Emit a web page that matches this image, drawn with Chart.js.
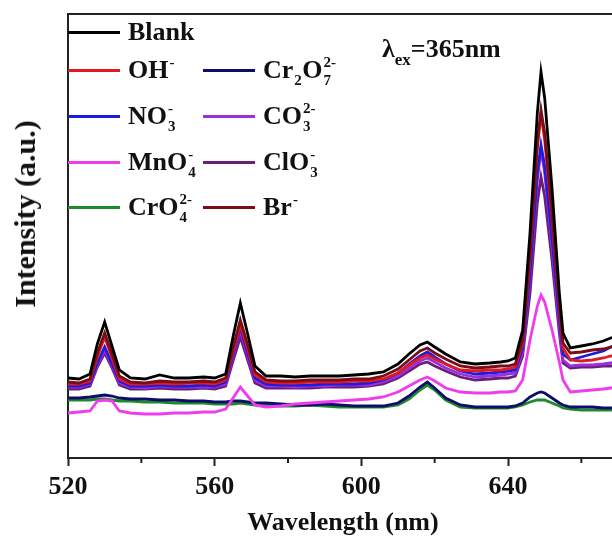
<!DOCTYPE html>
<html>
<head>
<meta charset="utf-8">
<script src="https://cdn.jsdelivr.net/npm/chart.js@4.4.1/dist/chart.umd.min.js"></script>
<style>
    html, body { margin: 0; padding: 0; background: #fff; }
    #frame { position: relative; width: 612px; height: 542px; overflow: hidden; }
    #plot { position: absolute; left: 0; top: 0; width: 624px; height: 542px; }
    .key, .note, .ytitle {
        position: absolute; white-space: nowrap;
        font: bold 26px 'Liberation Serif', 'Times New Roman', serif; color: #111;
    }
    .key, .note { height: 26px; line-height: 26px; }
    .key { display: flex; align-items: center; }
    .key i { display: block; width: 52px; height: 3px; margin-right: 8px; }
    .ion { position: relative; display: inline-block; height: 0; }
    .ion b { position: absolute; left: 1px; font-size: 15px; line-height: 15px; }
    .ion .up { top: -23px; }
    .ion .dn { top: -5px; }
    .ytitle { left: 25px; top: 214px; font-size: 30px; line-height: 30px; transform: translate(-50%, -50%) rotate(-90deg); }
</style>
</head>
<body>
<div id="frame">
    <div id="plot"><canvas id="spectraChart"></canvas></div>
    <div id="legend"></div>
    <div class="note" style="left:382px; top:36px;">λ<span style="font-size:17px; position:relative; top:8px;">ex</span>=365nm</div>
    <div class="ytitle">Intensity (a.u.)</div>
</div>
<script>
// emission spectra (arbitrary intensity units)
const wavelength = [520, 523, 526, 528, 530, 532, 534, 537, 541, 545, 549, 553, 557, 560, 563, 565, 567, 569, 571, 574,
    578, 582, 586, 590, 594, 598, 602, 606, 610, 613, 616, 618, 620, 623, 627, 631, 635, 638, 640, 642,
    644, 646, 648, 649, 650, 652, 654, 655, 657, 660, 663, 666, 668, 670];

const blank = [80, 79, 84, 114, 136, 112, 88, 80, 79, 83, 80, 80, 81, 80, 84, 121, 155, 124, 92, 82,
    82, 81, 82, 82, 82, 83, 84, 86, 94, 104, 113, 116, 111, 104, 96, 94, 95, 96, 97, 100,
    128, 225, 345, 386, 360, 270, 165, 125, 110, 112, 114, 117, 120, 122];
const bromide = [76, 75, 79, 105, 125, 104, 82, 76, 75, 77, 76, 76, 77, 76, 80, 110, 138, 113, 86, 78,
    77, 77, 78, 78, 78, 79, 79, 82, 89, 98, 107, 110, 105, 99, 92, 90, 91, 92, 92, 94,
    118, 205, 315, 348, 325, 245, 155, 115, 105, 106, 108, 109, 111, 112];
const hydroxide = [74, 74, 77, 101, 121, 100, 79, 74, 74, 75, 74, 75, 75, 74, 78, 106, 133, 109, 83, 76,
    75, 75, 76, 76, 76, 77, 77, 79, 85, 93, 100, 103, 99, 94, 88, 87, 88, 88, 89, 91,
    114, 200, 310, 344, 318, 240, 150, 110, 98, 97, 98, 100, 102, 103];
const nitrate = [72, 72, 75, 95, 111, 94, 77, 72, 72, 73, 72, 72, 73, 72, 76, 103, 131, 105, 80, 74,
    73, 73, 73, 74, 74, 74, 75, 78, 85, 94, 102, 106, 101, 94, 87, 84, 85, 86, 87, 88,
    110, 185, 285, 313, 292, 220, 140, 104, 98, 101, 104, 107, 111, 114];
const carbonate = [71, 71, 74, 93, 108, 92, 75, 71, 70, 72, 71, 71, 71, 71, 74, 101, 128, 102, 78, 72,
    72, 71, 72, 72, 73, 73, 73, 76, 82, 90, 97, 100, 96, 90, 84, 81, 82, 83, 84, 85,
    106, 180, 278, 308, 285, 212, 132, 98, 92, 93, 93, 94, 95, 96];
const chlorate = [69, 69, 72, 91, 105, 90, 73, 69, 69, 70, 69, 69, 70, 69, 72, 97, 121, 98, 75, 70,
    70, 70, 70, 71, 71, 71, 72, 74, 80, 87, 94, 96, 92, 87, 81, 78, 79, 80, 80, 82,
    102, 165, 255, 281, 262, 198, 125, 95, 90, 91, 91, 92, 92, 93];
const permanganate = [45, 46, 47, 57, 58, 57, 47, 45, 44, 44, 45, 45, 46, 46, 49, 60, 71, 62, 53, 51,
    52, 54, 55, 56, 57, 58, 59, 61, 66, 72, 78, 81, 77, 70, 66, 65, 65, 66, 66, 67,
    78, 118, 152, 163, 156, 128, 96, 78, 66, 67, 68, 69, 70, 71];
const dichromate = [60, 60, 61, 62, 63, 62, 60, 59, 59, 58, 58, 57, 57, 56, 56, 57, 57, 56, 55, 55,
    54, 53, 53, 54, 53, 52, 52, 52, 55, 62, 71, 76, 70, 60, 53, 51, 51, 51, 51, 52,
    55, 61, 65, 66, 65, 60, 55, 53, 51, 51, 51, 50, 50, 50];
const chromate = [58, 58, 58, 59, 59, 58, 57, 57, 56, 56, 55, 55, 55, 54, 54, 54, 55, 54, 53, 53,
    52, 52, 53, 52, 51, 51, 51, 51, 53, 59, 68, 73, 68, 58, 51, 50, 50, 50, 50, 51,
    53, 56, 58, 58, 58, 55, 52, 50, 49, 48, 48, 48, 48, 48];

const majorTicks = [520, 560, 600, 640];
const minorTicks = [540, 580, 620, 660];

// drawn first-to-last = top-to-bottom
const series = [
    { name: 'Blank', html: 'Blank', color: '#000000', values: blank },
    { name: 'Br-', html: 'Br<span class="ion"><b class="up">-</b></span>', color: '#7a0d16', values: bromide },
    { name: 'OH-', html: 'OH<span class="ion"><b class="up">-</b></span>', color: '#e3191f', values: hydroxide },
    { name: 'NO3-', html: 'NO<span class="ion"><b class="up">-</b><b class="dn">3</b></span>', color: '#1c1ce0', values: nitrate },
    { name: 'CO32-', html: 'CO<span class="ion"><b class="up">2-</b><b class="dn">3</b></span>', color: '#9a2fdc', values: carbonate },
    { name: 'ClO3-', html: 'ClO<span class="ion"><b class="up">-</b><b class="dn">3</b></span>', color: '#6b1d78', values: chlorate },
    { name: 'MnO4-', html: 'MnO<span class="ion"><b class="up">-</b><b class="dn">4</b></span>', color: '#ee3cee', values: permanganate },
    { name: 'Cr2O72-', html: 'Cr<span class="ion"><b class="dn">2</b></span>O<span class="ion"><b class="up">2-</b><b class="dn">7</b></span>', color: '#0e0e6a', values: dichromate },
    { name: 'CrO42-', html: 'CrO<span class="ion"><b class="up">2-</b><b class="dn">4</b></span>', color: '#1f8a2c', values: chromate }
];

// legend slots: [series name, left, line centre y]
const legendSlots = [
    ['Blank', 68, 32], ['OH-', 68, 70], ['NO3-', 68, 116], ['MnO4-', 68, 162], ['CrO42-', 68, 207],
    ['Cr2O72-', 203, 70], ['CO32-', 203, 116], ['ClO3-', 203, 162], ['Br-', 203, 207]
];

const legend = document.getElementById('legend');
legendSlots.forEach(([name, left, y]) => {
    const s = series.find(d => d.name === name);
    const el = document.createElement('div');
    el.className = 'key';
    el.style.left = left + 'px';
    el.style.top = (y - 13) + 'px';
    el.innerHTML = '<i style="background:' + s.color + '"></i><span>' + s.html + '</span>';
    legend.appendChild(el);
});
document.querySelectorAll('.ion').forEach(el => {
    el.style.width = Math.max(...[...el.children].map(c => c.offsetWidth)) + 1 + 'px';
});

const frame = {
    id: 'frame',
    afterDraw(chart) {
        const { ctx, chartArea, scales } = chart;
        ctx.save();
        ctx.strokeStyle = '#222';
        ctx.lineWidth = 2;
        ctx.beginPath();
        ctx.moveTo(chartArea.left - 1, chartArea.top);
        ctx.lineTo(chartArea.right, chartArea.top);
        minorTicks.forEach(v => {
            const px = scales.x.getPixelForValue(v);
            ctx.moveTo(px, chartArea.bottom);
            ctx.lineTo(px, chartArea.bottom + 5);
        });
        ctx.stroke();
        ctx.restore();
    }
};

const serif = 'Liberation Serif, Times New Roman, serif';

new Chart(document.getElementById('spectraChart'), {
    type: 'line',
    data: {
        datasets: series.map(s => ({
            label: s.name,
            data: wavelength.map((w, i) => ({ x: w, y: s.values[i] })),
            borderColor: s.color,
            backgroundColor: s.color,
            borderWidth: 2.8,
            pointRadius: 0,
            tension: 0,
            fill: false
        }))
    },
    options: {
        responsive: true,
        maintainAspectRatio: false,
        animation: false,
        layout: { padding: { top: 14, right: 6, left: 0, bottom: 0 } },
        plugins: {
            legend: { display: false },
            tooltip: { enabled: false }
        },
        scales: {
            x: {
                type: 'linear',
                min: 520,
                max: 670,
                afterBuildTicks(scale) {
                    scale.ticks = majorTicks.map(v => ({ value: v }));
                },
                afterFit(scale) { scale.height = 84; },
                ticks: { color: '#111', padding: 6, font: { family: serif, size: 26, weight: 'bold' } },
                grid: { drawOnChartArea: false, drawTicks: true, tickLength: 8, tickWidth: 2, tickColor: '#222' },
                border: { display: true, color: '#222', width: 2 },
                title: {
                    display: true,
                    text: 'Wavelength (nm)',
                    color: '#111',
                    padding: { top: 0, bottom: 3 },
                    font: { family: serif, size: 26, weight: 'bold' }
                }
            },
            y: {
                min: 0,
                max: 444,
                afterFit(scale) { scale.width = 68; },
                ticks: { display: false },
                grid: { display: false },
                border: { display: true, color: '#222', width: 2 }
            }
        }
    },
    plugins: [frame]
});
</script>
</body>
</html>
